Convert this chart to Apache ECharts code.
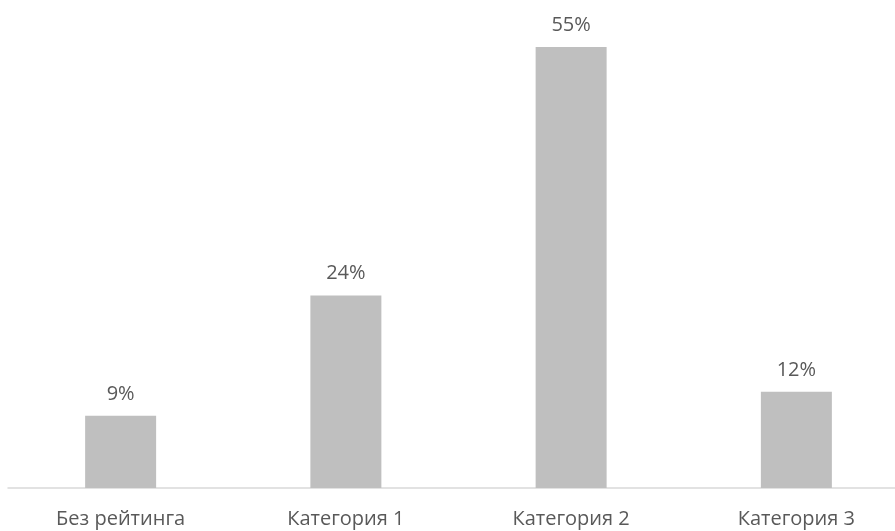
<!DOCTYPE html>
<html>
<head>
<meta charset="utf-8">
<script src="https://cdn.jsdelivr.net/npm/echarts@6/dist/echarts.min.js"></script>
<style>
  html, body { margin: 0; padding: 0; background: #ffffff; overflow: hidden; }
  #chart { width: 895px; height: 531px; }
</style>
</head>
<body>
<div id="chart"></div>
<script>
// Rating categories and their shares, in percent
const categories = ['Без рейтинга', 'Категория 1', 'Категория 2', 'Категория 3'];
const shares = [9, 24, 55, 12];

const chart = echarts.init(document.getElementById('chart'));
chart.setOption({
  animation: false,
  backgroundColor: '#ffffff',
  // plot area runs a little past the right edge, so the last band is clipped
  grid: {
    left: 8, width: 901, top: 7, bottom: 43,
    containLabel: false,
    outerBoundsMode: 'none'
  },
  xAxis: {
    type: 'category',
    data: categories,
    axisLine: { show: true, lineStyle: { color: '#d9d9d9', width: 1.5 } },
    axisTick: { show: false },
    axisLabel: {
      color: '#595959',
      fontFamily: 'Open Sans',
      fontSize: 20,
      margin: 21
    }
  },
  yAxis: {
    type: 'value',
    min: 0,
    max: 60,
    show: false,
    splitLine: { show: false }
  },
  series: [{
    type: 'bar',
    data: shares,
    barWidth: 71,
    itemStyle: { color: '#bfbfbf' },
    label: {
      show: true,
      position: 'top',
      distance: 12,
      color: '#595959',
      fontFamily: 'Open Sans',
      fontSize: 20,
      formatter: p => p.value + '%'
    }
  }]
});
</script>
</body>
</html>
